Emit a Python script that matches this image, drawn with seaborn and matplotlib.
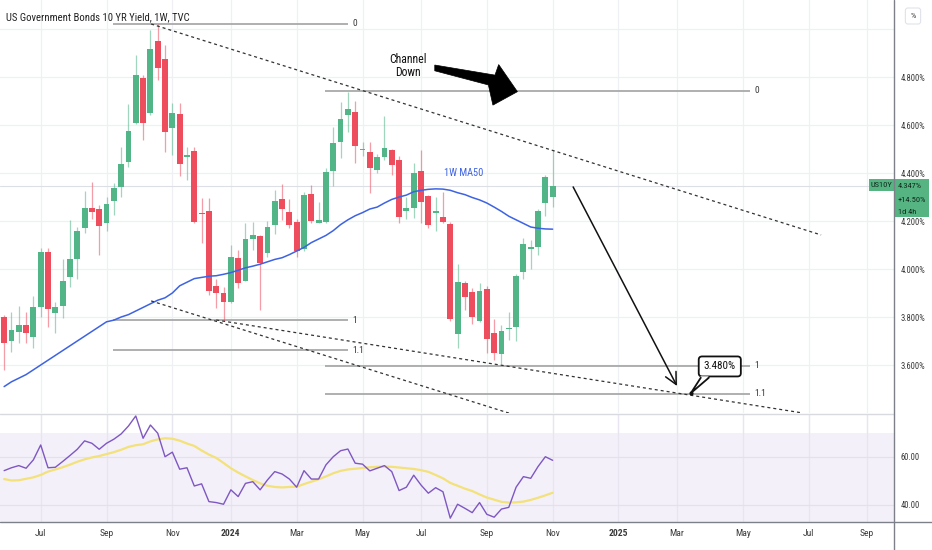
import numpy as np
import matplotlib
matplotlib.use("Agg")
import matplotlib.pyplot as plt
import seaborn as sns
from matplotlib import font_manager
from matplotlib.patches import Polygon, Rectangle
from matplotlib.lines import Line2D

# ---------------- data (weekly bars, index 0 = week of 22 May 2023) ----------------
opens = [3.800, 3.701, 3.739, 3.768, 3.715, 3.843, 4.070, 3.815, 3.846, 3.968,
         4.041, 4.172, 4.253, 4.250, 4.190, 4.283, 4.340, 4.447, 4.610, 4.797,
         4.651, 4.950, 4.875, 4.589, 4.644, 4.465, 4.493, 4.235, 4.243, 3.930,
         3.902, 3.864, 4.045, 3.951, 4.126, 4.138, 4.068, 4.183, 4.293, 4.239,
         4.195, 4.082, 4.313, 4.193, 4.197, 4.410, 4.528, 4.643, 4.656, 4.495,
         4.489, 4.413, 4.465, 4.496, 4.454, 4.240, 4.253, 4.410, 4.305, 4.235,
         4.218, 4.186, 3.729, 3.943, 3.905, 3.783, 3.918, 3.735, 3.646, 3.750,
         3.757, 3.986, 4.082, 4.090, 4.276, 4.301]
highs = [3.810, 3.821, 3.846, 3.820, 3.888, 4.086, 4.086, 3.864, 4.040, 4.204,
         4.176, 4.326, 4.364, 4.267, 4.301, 4.360, 4.510, 4.688, 4.892, 4.810,
         4.998, 5.021, 4.933, 4.690, 4.693, 4.510, 4.510, 4.295, 4.295, 3.957,
         3.926, 4.100, 4.079, 4.190, 4.197, 4.140, 4.200, 4.329, 4.354, 4.290,
         4.210, 4.320, 4.350, 4.280, 4.420, 4.593, 4.697, 4.739, 4.700, 4.530,
         4.530, 4.480, 4.637, 4.500, 4.470, 4.300, 4.440, 4.496, 4.310, 4.300,
         4.320, 4.195, 4.021, 3.950, 3.920, 3.940, 3.930, 3.790, 3.767, 3.820,
         3.980, 4.130, 4.120, 4.250, 4.390, 4.496]
lows = [3.580, 3.656, 3.690, 3.690, 3.669, 3.800, 3.760, 3.732, 3.795, 3.926,
        3.957, 4.150, 4.207, 4.058, 4.160, 4.225, 4.300, 4.425, 4.605, 4.538,
        4.640, 4.788, 4.489, 4.475, 4.388, 4.370, 4.190, 4.107, 3.892, 3.836,
        3.785, 3.860, 3.920, 3.950, 4.079, 3.830, 4.050, 4.146, 4.204, 4.170,
        4.050, 4.075, 4.190, 4.190, 4.190, 4.346, 4.461, 4.572, 4.440, 4.470,
        4.315, 4.400, 4.454, 4.390, 4.190, 4.210, 4.211, 4.190, 4.170, 4.160,
        4.190, 3.785, 3.670, 3.830, 3.770, 3.780, 3.649, 3.620, 3.604, 3.704,
        3.700, 3.960, 4.000, 4.058, 4.220, 4.260]
closes = [3.693, 3.746, 3.768, 3.735, 3.843, 4.069, 3.832, 3.840, 3.951, 4.040,
          4.160, 4.256, 4.236, 4.179, 4.270, 4.336, 4.438, 4.576, 4.808, 4.610,
          4.917, 4.839, 4.572, 4.651, 4.438, 4.474, 4.195, 4.228, 3.910, 3.899,
          3.863, 4.049, 3.940, 4.124, 4.142, 4.024, 4.176, 4.282, 4.250, 4.183,
          4.076, 4.310, 4.200, 4.204, 4.403, 4.527, 4.624, 4.667, 4.511, 4.500,
          4.421, 4.465, 4.503, 4.433, 4.218, 4.255, 4.399, 4.280, 4.183, 4.243,
          4.195, 3.792, 3.945, 3.885, 3.801, 3.910, 3.708, 3.651, 3.742, 3.755,
          3.969, 4.104, 4.090, 4.243, 4.385, 4.347]
ma50 = [3.510, 3.530, 3.545, 3.560, 3.580, 3.600, 3.620, 3.640, 3.660, 3.680,
        3.700, 3.720, 3.740, 3.760, 3.780, 3.787, 3.800, 3.810, 3.825, 3.840,
        3.855, 3.870, 3.880, 3.900, 3.930, 3.945, 3.960, 3.965, 3.970, 3.972,
        3.978, 3.985, 3.995, 4.005, 4.012, 4.020, 4.030, 4.040, 4.047, 4.060,
        4.075, 4.090, 4.110, 4.125, 4.140, 4.160, 4.185, 4.205, 4.222, 4.235,
        4.250, 4.258, 4.275, 4.290, 4.300, 4.308, 4.322, 4.328, 4.332, 4.334,
        4.333, 4.328, 4.318, 4.310, 4.298, 4.288, 4.275, 4.258, 4.240, 4.220,
        4.205, 4.190, 4.175, 4.170, 4.167, 4.166]
rsi = [54.3, 55.5, 56.4, 55.3, 58.8, 65.0, 55.5, 55.7, 58.1, 60.6,
       63.2, 66.7, 65.7, 63.2, 65.7, 67.4, 69.6, 72.9, 77.1, 67.8,
       73.3, 69.9, 60.1, 62.0, 54.9, 55.5, 47.9, 48.8, 41.4, 41.0,
       40.3, 46.3, 43.5, 49.0, 49.7, 46.3, 50.4, 53.9, 52.9, 50.8,
       47.4, 54.3, 50.8, 50.8, 56.7, 60.1, 62.6, 63.3, 57.4, 57.0,
       54.2, 55.3, 56.4, 53.9, 46.0, 47.4, 52.4, 48.3, 44.9, 47.2,
       45.5, 34.5, 40.3, 38.6, 36.8, 41.0, 36.1, 34.9, 38.3, 39.0,
       47.4, 51.8, 51.1, 56.0, 60.1, 58.6]
rsi_ma = [50.8, 50.2, 50.3, 50.9, 51.5, 52.5, 53.9, 54.8, 55.7, 56.8,
          58.0, 59.0, 59.8, 60.4, 61.2, 62.0, 63.0, 64.2, 64.9, 65.3,
          66.5, 67.3, 67.8, 67.6, 66.8, 65.6, 64.6, 62.7, 61.0, 59.6,
          57.5, 55.3, 53.5, 51.9, 50.4, 49.0, 48.0, 47.5, 47.3, 47.5,
          47.6, 48.7, 49.7, 50.7, 51.9, 53.2, 54.2, 54.8, 55.1, 55.4,
          55.7, 55.9, 56.0, 55.9, 55.6, 55.3, 55.0, 54.5, 53.8, 52.5,
          51.1, 49.2, 48.0, 46.8, 45.8, 44.4, 43.1, 42.2, 41.3, 41.0,
          41.1, 41.4, 42.1, 43.0, 44.0, 45.1]

tick_bars = [5, 14, 23, 31, 40, 49, 57, 66, 75, 84, 92, 101, 110, 118]
tick_labels = ["Jul", "Sep", "Nov", "2024", "Mar", "May", "Jul", "Sep", "Nov",
               "2025", "Mar", "May", "Jul", "Sep"]
price_ticks = [3.6, 3.8, 4.0, 4.2, 4.4, 4.6, 4.8]
price_grid = [3.6, 3.8, 4.0, 4.2, 4.4, 4.6, 4.8, 5.0]
rsi_ticks = [40, 60]

# drawing anchors (bar index, price)
fib_left_levels = [5.021, 3.786, 3.6625]
fib_right_levels = [4.743, 3.597, 3.4804]
fib_names = ["0", "1", "1.1"]
fib_left_span = (14.9, 47.0)
fib_right_span = (43.9, 102.0)
channel_upper = [(20.1, 5.021), (111.7, 4.142)]
channel_lower_a = [(20.1, 3.867), (69.4, 3.396)]
channel_lower_b = [(29.0, 3.7875), (109.2, 3.400)]
target_arrow = [(77.8, 4.342), (92.0, 3.5125)]
big_arrow = [(58.88, 4.850), (67.11, 4.808), (67.62, 4.852), (70.18, 4.739),
             (66.83, 4.683), (66.21, 4.767), (58.88, 4.826)]
callout_anchor = (97.85, 3.594)
callout_tip = (93.9, 3.483)

# ---------------- style ----------------
def pick_font(names):
    for n in names:
        try:
            font_manager.findfont(font_manager.FontProperties(family=n),
                                  fallback_to_default=False)
            return n
        except Exception:
            pass
    return "DejaVu Sans"

FONT = pick_font(["Liberation Sans Narrow", "Roboto Condensed", "Liberation Sans", "Roboto"])
sns.set_theme(style="white")
plt.rcParams["font.family"] = [FONT, "DejaVu Sans"]

GREEN = "#52b587"
RED = "#ee4d5d"
BLUE = "#3d63e3"
GRID = "#eef0f4"
PURPLE = "#7e57c2"
YELLOW = "#f3e17a"
TXT = "#3a3a3a"

W, H = 932, 550
fig = plt.figure(figsize=(W / 100, H / 100), dpi=100)
fig.patch.set_facecolor("white")
ax = fig.add_axes([0, 137 / H, 894 / W, 413 / H])
axr = fig.add_axes([0, 28 / H, 894 / W, 108 / H])

XL = (-0.565, 121.67)
for a in (ax, axr):
    a.set_xlim(*XL)
    a.set_facecolor("white")
    for s in a.spines.values():
        s.set_visible(False)
    a.grid(False)
    for t in tick_bars:
        a.axvline(t, color=GRID, lw=0.9, zorder=0)

ax.set_ylim(3.4, 5.121)
axr.set_ylim(32.9, 77.9)

for p in price_grid:
    ax.axhline(p, color=GRID, lw=0.9, zorder=0)

# ---------------- candles ----------------
idx = np.arange(len(opens))
o = np.array(opens); h = np.array(highs); l = np.array(lows); c = np.array(closes)
up = c >= o
cols = np.where(up, GREEN, RED)
ax.vlines(idx, l, h, colors=cols, lw=0.9, alpha=0.55, zorder=3)
body_bottom = np.minimum(o, c)
body_h = np.maximum(np.abs(c - o), 0.006)
ax.bar(idx, body_h, bottom=body_bottom, width=0.8, color=cols, linewidth=0, zorder=4)

# last price line
ax.axhline(closes[-1], color="#dcdfe6", lw=0.8, zorder=1)

# MA50
sns.lineplot(x=idx, y=ma50, ax=ax, color=BLUE, lw=1.1, zorder=5, legend=False)
ax.text(62.9, 4.402, "1W MA50", color=BLUE, fontsize=7.5, ha="center", va="center", zorder=7)

# ---------------- drawings ----------------
def fib(levels, span):
    for lev, name in zip(levels, fib_names):
        ax.plot(span, [lev, lev], color="#a9a9a9", lw=1.3, zorder=2, solid_capstyle="butt")
        ax.text(span[1] + 0.6, lev, name, fontsize=6.8, color=TXT, va="center", ha="left")

fib(fib_left_levels, fib_left_span)
fib(fib_right_levels, fib_right_span)

for seg in (channel_upper, channel_lower_a, channel_lower_b):
    (x0, y0), (x1, y1) = seg
    ax.plot([x0, x1], [y0, y1], color="#333333", lw=0.9, ls=(0, (2.4, 2.4)), zorder=6)

ax.annotate("", xy=target_arrow[1], xytext=target_arrow[0],
            arrowprops=dict(arrowstyle="->,head_length=0.7,head_width=0.35",
                            color="#111111", lw=1.1, shrinkA=0, shrinkB=0), zorder=7)

ax.add_patch(Polygon(big_arrow, closed=True, fc="#000000", ec="#000000", lw=0.5, zorder=7))
ax.text(55.2, 4.846, "Channel\nDown", fontsize=8.5, color="#111111", ha="center",
        va="center", linespacing=1.0, zorder=7)

ax.text(callout_anchor[0], callout_anchor[1], "3.480%", fontsize=8, color="#111111",
        ha="center", va="center", zorder=8,
        bbox=dict(boxstyle="round,pad=0.45,rounding_size=0.3", fc="white", ec="#111111", lw=1.3))
tri = [(95.25, 3.553), (96.35, 3.553), callout_tip]
ax.add_patch(Polygon(tri, closed=True, fc="white", ec="none", zorder=9))
ax.plot([95.25, callout_tip[0], 96.35], [3.547, callout_tip[1], 3.547],
        color="#111111", lw=1.3, zorder=9, solid_joinstyle="miter")
ax.plot([callout_tip[0]], [callout_tip[1]], marker="o", ms=2, color="#111111", zorder=9)

# price axis labels
ax.yaxis.tick_right()
ax.set_yticks(price_ticks)
ax.set_yticklabels([f"{p:.3f}%" for p in price_ticks])
ax.tick_params(axis="y", length=0, pad=5, labelsize=6.2, labelcolor=TXT)
ax.set_xticks([])
ax.set_xlabel(""); ax.set_ylabel("")

# ---------------- RSI pane ----------------
axr.axhspan(30, 70, color="#f3f0fa", zorder=0, lw=0)
for r in rsi_ticks:
    axr.axhline(r, color="#e4e1ed", lw=0.9, zorder=1)
for t in tick_bars:
    axr.axvline(t, color="#e8e5f0", lw=0.9, zorder=0.5)
sns.lineplot(x=idx, y=rsi_ma, ax=axr, color=YELLOW, lw=1.6, zorder=3, legend=False)
sns.lineplot(x=idx, y=rsi, ax=axr, color=PURPLE, lw=1.0, zorder=4, legend=False)
axr.yaxis.tick_right()
axr.set_yticks(rsi_ticks)
axr.set_yticklabels([f"{r:.2f}" for r in rsi_ticks])
axr.tick_params(axis="y", length=0, pad=5, labelsize=6.2, labelcolor=TXT)
axr.set_xticks(tick_bars)
axr.set_xticklabels(tick_labels)
axr.tick_params(axis="x", length=0, pad=5, labelsize=6.8, labelcolor=TXT)
for lab in axr.get_xticklabels():
    if lab.get_text().isdigit():
        lab.set_fontweight("bold")
axr.set_xlabel(""); axr.set_ylabel("")

# ---------------- frame lines / header ----------------
fig.add_artist(Line2D([0, 894 / W], [136.5 / H, 136.5 / H], transform=fig.transFigure,
                      color="#d8dae0", lw=1.0))
fig.add_artist(Line2D([0, 1], [28 / H, 28 / H], transform=fig.transFigure,
                      color="#7d8088", lw=1.0))
fig.add_artist(Line2D([894 / W, 894 / W], [0, 1], transform=fig.transFigure,
                      color="#7d8088", lw=1.0))

fig.text(6 / W, 1 - 17 / H, "US Government Bonds 10 YR Yield, 1W, TVC", fontsize=7.7,
         color="#222222", va="center", ha="left")
fig.text(913 / W, 1 - 16 / H, "%", fontsize=6, color=TXT, ha="center", va="center",
         bbox=dict(boxstyle="round,pad=0.6,rounding_size=0.3", fc="white", ec="#e0e3eb", lw=0.8))

# price tag
TAG = "#56b382"
fig.add_artist(Rectangle((869 / W, 1 - 191 / H), 24.5 / W, 12 / H, transform=fig.transFigure,
                         fc=TAG, ec="none"))
fig.text(881 / W, 1 - 185 / H, "US10Y", fontsize=6, color="#0f2a1c", ha="center", va="center")
fig.add_artist(Rectangle((894 / W, 1 - 217 / H), 35 / W, 38 / H, transform=fig.transFigure,
                         fc=TAG, ec="none"))
for txt, yy in (("4.347%", 186), ("+14.50%", 199.5), ("1d 4h", 211.5)):
    fig.text(898 / W, 1 - yy / H, txt, fontsize=6, color="#0f2a1c", ha="left", va="center")

fig.savefig("out.png", dpi=100)
print("font:", FONT)
